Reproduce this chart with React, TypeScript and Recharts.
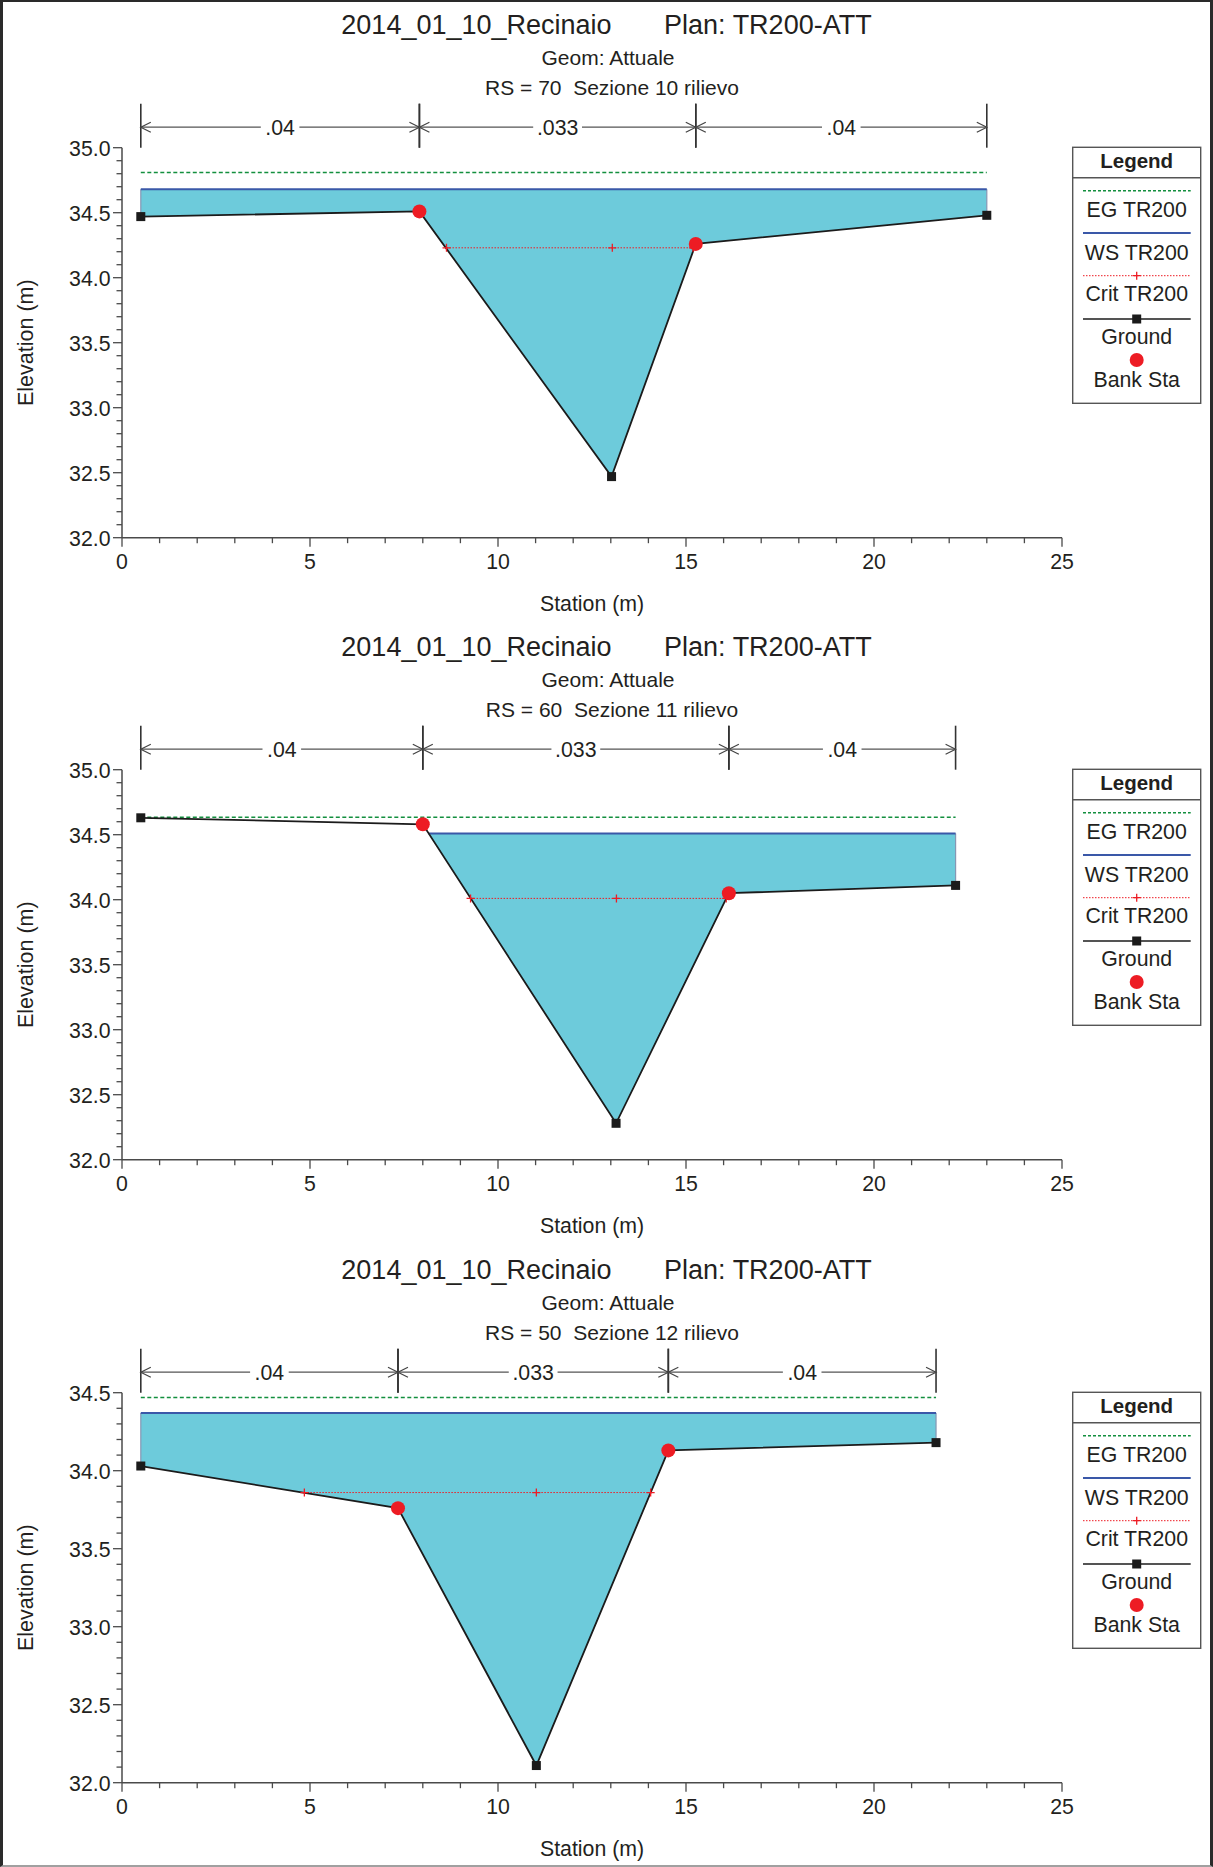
import React from 'react';
import { ComposedChart, Line, Area, XAxis, YAxis, ReferenceLine } from 'recharts';

const FONT = '"Liberation Sans", Arial, Helvetica, sans-serif';
const TEXT = '#231f20';
const AXIS = '#4a4a4a';

// ---------- text ----------
const titleMain = '2014_01_10_Recinaio       Plan: TR200-ATT';
const titleGeom = 'Geom: Attuale';
const rsTitles = ['RS = 70  Sezione 10 rilievo', 'RS = 60  Sezione 11 rilievo', 'RS = 50  Sezione 12 rilievo'];
const legendLabels = ['EG TR200', 'WS TR200', 'Crit TR200', 'Ground', 'Bank Sta'];
const xLabel = 'Station (m)';
const yLabel = 'Elevation (m)';

// ---------- axes ----------
const xDomain = [0, 25];
const xMajorTicks = [0, 5, 10, 15, 20, 25];
const xMinorStep = 1;
const yMinorStep = 0.1;
const yMajorTicksA = [32.0, 32.5, 33.0, 33.5, 34.0, 34.5, 35.0];
const yMajorTicksC = [32.0, 32.5, 33.0, 33.5, 34.0, 34.5];

// ---------- RS 70 ----------
const p1Ground = [
  { x: 0.5, y: 34.47 }, { x: 7.91, y: 34.51 }, { x: 13.02, y: 32.47 }, { x: 15.26, y: 34.26 }, { x: 23.0, y: 34.48 },
];
const p1Bank = [{ x: 7.91, y: 34.51 }, { x: 15.26, y: 34.26 }];
const p1Crit = [{ x: 8.63, y: 34.23 }, { x: 13.04, y: 34.23 }, { x: 15.19, y: 34.23 }];
const p1WS = [{ x: 0.5, y: 34.68 }, { x: 23.0, y: 34.68 }];
const p1EG = [{ x: 0.5, y: 34.81 }, { x: 23.0, y: 34.81 }];
const p1Water = [
  { x: 0.5, lo: 34.47, hi: 34.68 }, { x: 7.91, lo: 34.51, hi: 34.68 }, { x: 13.02, lo: 32.47, hi: 34.68 },
  { x: 15.26, lo: 34.26, hi: 34.68 }, { x: 23.0, lo: 34.48, hi: 34.68 },
];
const p1N = [{ from: 0.5, to: 7.91, n: '.04' }, { from: 7.91, to: 15.26, n: '.033' }, { from: 15.26, to: 23.0, n: '.04' }];

// ---------- RS 60 ----------
const p2Ground = [
  { x: 0.5, y: 34.63 }, { x: 8.0, y: 34.58 }, { x: 13.14, y: 32.28 }, { x: 16.14, y: 34.05 }, { x: 22.17, y: 34.11 },
];
const p2Bank = [{ x: 8.0, y: 34.58 }, { x: 16.14, y: 34.05 }];
const p2Crit = [{ x: 9.27, y: 34.01 }, { x: 13.15, y: 34.01 }, { x: 16.07, y: 34.01 }];
const p2WS = [{ x: 8.15, y: 34.51 }, { x: 22.17, y: 34.51 }];
const p2EG = [{ x: 0.5, y: 34.635 }, { x: 22.17, y: 34.635 }];
const p2Water = [
  { x: 8.15, lo: 34.51, hi: 34.51 }, { x: 13.14, lo: 32.28, hi: 34.51 },
  { x: 16.14, lo: 34.05, hi: 34.51 }, { x: 22.17, lo: 34.11, hi: 34.51 },
];
const p2N = [{ from: 0.5, to: 8.0, n: '.04' }, { from: 8.0, to: 16.14, n: '.033' }, { from: 16.14, to: 22.17, n: '.04' }];

// ---------- RS 50 ----------
const p3Ground = [
  { x: 0.5, y: 34.03 }, { x: 7.34, y: 33.76 }, { x: 11.02, y: 32.11 }, { x: 14.53, y: 34.13 }, { x: 21.65, y: 34.18 },
];
const p3Bank = [{ x: 7.34, y: 33.76 }, { x: 14.53, y: 34.13 }];
const p3Crit = [{ x: 4.85, y: 33.86 }, { x: 11.02, y: 33.86 }, { x: 14.06, y: 33.86 }];
const p3WS = [{ x: 0.5, y: 34.37 }, { x: 21.65, y: 34.37 }];
const p3EG = [{ x: 0.5, y: 34.47 }, { x: 21.65, y: 34.47 }];
const p3Water = [
  { x: 0.5, lo: 34.03, hi: 34.37 }, { x: 7.34, lo: 33.76, hi: 34.37 }, { x: 11.02, lo: 32.11, hi: 34.37 },
  { x: 14.53, lo: 34.13, hi: 34.37 }, { x: 21.65, lo: 34.18, hi: 34.37 },
];
const p3N = [{ from: 0.5, to: 7.34, n: '.04' }, { from: 7.34, to: 14.53, n: '.033' }, { from: 14.53, to: 21.65, n: '.04' }];

const panels = [
  { ground: p1Ground, bank: p1Bank, crit: p1Crit, ws: p1WS, eg: p1EG, water: p1Water, nSeg: p1N, yMajor: yMajorTicksA, rs: rsTitles[0] },
  { ground: p2Ground, bank: p2Bank, crit: p2Crit, ws: p2WS, eg: p2EG, water: p2Water, nSeg: p2N, yMajor: yMajorTicksA, rs: rsTitles[1] },
  { ground: p3Ground, bank: p3Bank, crit: p3Crit, ws: p3WS, eg: p3EG, water: p3Water, nSeg: p3N, yMajor: yMajorTicksC, rs: rsTitles[2] },
];

// ---------- layout ----------
const W = 1213;
const H = 1867;
const PANEL_H = 622.33;
const PLOT_TOP = 147.7;
const PLOT_BOTTOM = 537.7;
const PLOT_LEFT = 122;
const PLOT_RIGHT = 1062;
const AX_W = 40;
const AX_H = 40;

// colours
const C_WATER = '#6dcbdb';
const C_EG = '#138f3e';
const C_WS = '#3a58a8';
const C_CRIT = '#ed1c24';
const C_GROUND = '#1b1b1b';
const C_BANK = '#ed1c24';

const buildTicks = (lo, hi, step) => {
  const out = [];
  const n = Math.round((hi - lo) / step);
  for (let i = 0; i <= n; i++) out.push(Math.round((lo + i * step) * 1000) / 1000);
  return out;
};
const isIn = (v, arr) => arr.some((m) => Math.abs(m - v) < 1e-6);

const makeYTick = (majors) => (props) => {
  const { x, y, payload, index } = props;
  const v = payload.value;
  const major = isIn(v, majors);
  return (
    <g key={`yt-${index}`}>
      <line x1={x - (major ? 9 : 5.5)} x2={x} y1={y} y2={y} stroke={AXIS} strokeWidth={1.3} />
      {major && (
        <text x={x - 11.5} y={y + 8.3} textAnchor="end" fontSize={21.3} fill={TEXT} fontFamily={FONT}>
          {v.toFixed(1)}
        </text>
      )}
    </g>
  );
};

const XTick = (props) => {
  const { x, y, payload, index } = props;
  const v = payload.value;
  const major = isIn(v, xMajorTicks);
  return (
    <g key={`xt-${index}`}>
      <line x1={x} x2={x} y1={y} y2={y + (major ? 9 : 5.5)} stroke={AXIS} strokeWidth={1.3} />
      {major && (
        <text x={x} y={y + 31} textAnchor="middle" fontSize={21.3} fill={TEXT} fontFamily={FONT}>
          {String(v)}
        </text>
      )}
    </g>
  );
};

const SquareDot = (p) =>
  p.cx == null ? <g key={`sq-${p.index}`} /> : (
    <rect key={`sq-${p.index}`} x={p.cx - 4.5} y={p.cy - 4.5} width={9} height={9} fill={C_GROUND} />
  );
const BankDot = (p) =>
  p.cx == null ? <g key={`bk-${p.index}`} /> : <circle key={`bk-${p.index}`} cx={p.cx} cy={p.cy} r={7} fill={C_BANK} />;
const PlusDot = (p) =>
  p.cx == null ? <g key={`pl-${p.index}`} /> : (
    <path
      key={`pl-${p.index}`}
      d={`M${p.cx - 4},${p.cy}H${p.cx + 4}M${p.cx},${p.cy - 4}V${p.cy + 4}`}
      stroke={C_CRIT}
      strokeWidth={1.3}
      fill="none"
    />
  );

const NArrow = (label) => (p) => {
  const { x1, x2, y1 } = p;
  if (x1 == null) return <g />;
  const ya = y1 - 20.5;
  const yt = y1 - 44;
  const cx = (x1 + x2) / 2;
  const tw = label.length * 10.2 + 8;
  const ah = 10;
  return (
    <g>
      <line x1={x1} x2={x1} y1={yt} y2={y1} stroke="#333" strokeWidth={1.6} />
      <line x1={x2} x2={x2} y1={yt} y2={y1} stroke="#333" strokeWidth={1.6} />
      <line x1={x1} x2={x2} y1={ya} y2={ya} stroke="#555" strokeWidth={1.3} />
      <path d={`M${x1 + ah},${ya - 5}L${x1},${ya}L${x1 + ah},${ya + 5}`} stroke="#444" strokeWidth={1.2} fill="none" />
      <path d={`M${x2 - ah},${ya - 5}L${x2},${ya}L${x2 - ah},${ya + 5}`} stroke="#444" strokeWidth={1.2} fill="none" />
      <rect x={cx - tw / 2} y={ya - 11} width={tw} height={22} fill="#ffffff" />
      <text x={cx} y={ya + 7.5} textAnchor="middle" fontSize={21.3} fill={TEXT} fontFamily={FONT}>
        {label}
      </text>
    </g>
  );
};

const LegendBox = () => {
  const bx = 1072.7;
  const by = 147.3;
  const bw = 128;
  const bh = 256;
  const cx = bx + bw / 2;
  const lx1 = bx + 10.3;
  const lx2 = bx + 118;
  const lineYs = [43.4, 85.7, 128.4, 171.7, 212.7];
  const textYs = [70, 112.4, 153.7, 196.7, 239.4];
  return (
    <g fontFamily={FONT}>
      <rect x={bx} y={by} width={bw} height={bh} fill="#ffffff" stroke="#555" strokeWidth={1.4} />
      <text x={cx} y={by + 20.4} textAnchor="middle" fontSize={20.5} fontWeight="bold" fill={TEXT}>
        Legend
      </text>
      <line x1={bx} x2={bx + bw} y1={by + 30.4} y2={by + 30.4} stroke="#555" strokeWidth={1.4} />
      <line x1={lx1} x2={lx2} y1={by + lineYs[0]} y2={by + lineYs[0]} stroke={C_EG} strokeWidth={1.5} strokeDasharray="3 2" />
      <line x1={lx1} x2={lx2} y1={by + lineYs[1]} y2={by + lineYs[1]} stroke={C_WS} strokeWidth={2} />
      <line x1={lx1} x2={lx2} y1={by + lineYs[2]} y2={by + lineYs[2]} stroke={C_CRIT} strokeWidth={1} strokeDasharray="1.5 1.5" />
      <path
        d={`M${cx - 4},${by + lineYs[2]}H${cx + 4}M${cx},${by + lineYs[2] - 4}V${by + lineYs[2] + 4}`}
        stroke={C_CRIT}
        strokeWidth={1.3}
      />
      <line x1={lx1} x2={lx2} y1={by + lineYs[3]} y2={by + lineYs[3]} stroke={C_GROUND} strokeWidth={1.6} />
      <rect x={cx - 4.5} y={by + lineYs[3] - 4.5} width={9} height={9} fill={C_GROUND} />
      <circle cx={cx} cy={by + lineYs[4]} r={7} fill={C_BANK} />
      {legendLabels.map((t, i) => (
        <text key={t} x={cx} y={by + textYs[i]} textAnchor="middle" fontSize={21.3} fill={TEXT}>
          {t}
        </text>
      ))}
    </g>
  );
};

const Panel = ({ cfg, top }) => {
  const { ground, bank, crit, ws, eg, water, nSeg, yMajor, rs } = cfg;
  const yMax = yMajor[yMajor.length - 1];
  const yMin = yMajor[0];
  const yTicks = buildTicks(yMin, yMax, yMinorStep);
  const xTicks = buildTicks(xDomain[0], xDomain[1], xMinorStep);
  const first = water[0];
  const last = water[water.length - 1];
  const edgeL = [{ x: first.x, y: first.lo }, { x: first.x, y: first.hi }];
  const edgeR = [{ x: last.x, y: last.lo }, { x: last.x, y: last.hi }];
  const YTick = makeYTick(yMajor);
  return (
    <div style={{ position: 'absolute', left: 0, top, width: W, height: PANEL_H }}>
      <ComposedChart
        width={W}
        height={PANEL_H}
        margin={{ top: PLOT_TOP, left: PLOT_LEFT - AX_W, right: W - PLOT_RIGHT, bottom: PANEL_H - PLOT_BOTTOM - AX_H }}
      >
        <XAxis
          type="number"
          dataKey="x"
          domain={xDomain}
          ticks={xTicks}
          interval={0}
          height={AX_H}
          tickSize={0}
          tickMargin={0}
          tickLine={false}
          tick={XTick}
          axisLine={{ stroke: AXIS, strokeWidth: 1.5 }}
          allowDataOverflow
        />
        <YAxis
          type="number"
          domain={[yMin, yMax]}
          ticks={yTicks}
          interval={0}
          width={AX_W}
          tickSize={0}
          tickMargin={0}
          tickLine={false}
          tick={YTick}
          axisLine={{ stroke: AXIS, strokeWidth: 1.5 }}
          allowDataOverflow
        />
        <Area
          data={water}
          dataKey={(d) => [d.lo, d.hi]}
          type="linear"
          stroke="none"
          fill={C_WATER}
          fillOpacity={1}
          isAnimationActive={false}
          dot={false}
          activeDot={false}
        />
        <Line data={edgeL} dataKey="y" type="linear" stroke="#8797b3" strokeWidth={1.2} dot={false} activeDot={false} isAnimationActive={false} />
        <Line data={edgeR} dataKey="y" type="linear" stroke="#8797b3" strokeWidth={1.2} dot={false} activeDot={false} isAnimationActive={false} />
        <Line data={eg} dataKey="y" type="linear" stroke={C_EG} strokeWidth={1.5} strokeDasharray="4 2.5" dot={false} activeDot={false} isAnimationActive={false} />
        <Line data={ws} dataKey="y" type="linear" stroke={C_WS} strokeWidth={2} dot={false} activeDot={false} isAnimationActive={false} />
        <Line data={crit} dataKey="y" type="linear" stroke={C_CRIT} strokeWidth={1} strokeDasharray="1.5 1.5" dot={PlusDot} activeDot={false} isAnimationActive={false} />
        <Line data={ground} dataKey="y" type="linear" stroke={C_GROUND} strokeWidth={1.8} dot={SquareDot} activeDot={false} isAnimationActive={false} />
        <Line data={bank} dataKey="y" type="linear" stroke="none" dot={BankDot} activeDot={false} isAnimationActive={false} />
        {nSeg.map((s, i) => (
          <ReferenceLine
            key={`n-${i}`}
            segment={[{ x: s.from, y: yMax }, { x: s.to, y: yMax }]}
            ifOverflow="visible"
            shape={NArrow(s.n)}
          />
        ))}
      </ComposedChart>
      <svg
        width={W}
        height={PANEL_H}
        style={{ position: 'absolute', left: 0, top: 0, pointerEvents: 'none' }}
      >
        <text x={606.5} y={33.5} textAnchor="middle" fontSize={27} fill={TEXT} fontFamily={FONT} style={{ whiteSpace: 'pre' }}>
          {titleMain}
        </text>
        <text x={608} y={65} textAnchor="middle" fontSize={21} fill={TEXT} fontFamily={FONT}>
          {titleGeom}
        </text>
        <text x={612} y={94.5} textAnchor="middle" fontSize={21} fill={TEXT} fontFamily={FONT} style={{ whiteSpace: 'pre' }}>
          {rs}
        </text>
        <text x={(PLOT_LEFT + PLOT_RIGHT) / 2} y={PLOT_BOTTOM + 73.5} textAnchor="middle" fontSize={21.3} fill={TEXT} fontFamily={FONT}>
          {xLabel}
        </text>
        <text
          transform={`translate(33, ${(PLOT_TOP + PLOT_BOTTOM) / 2}) rotate(-90)`}
          x={0}
          y={0}
          textAnchor="middle"
          fontSize={21.5}
          fill={TEXT}
          fontFamily={FONT}
        >
          {yLabel}
        </text>
        <LegendBox />
      </svg>
    </div>
  );
};

export default function App() {
  return (
    <div style={{ position: 'absolute', left: 0, top: 0, width: W, height: H, background: '#ffffff', overflow: 'hidden' }}>
      {panels.map((cfg, i) => (
        <Panel key={i} cfg={cfg} top={i * PANEL_H} />
      ))}
      <div
        style={{
          position: 'absolute',
          left: 0,
          top: 0,
          width: W,
          height: H,
          boxSizing: 'border-box',
          borderLeft: '3px solid #2a2a2a',
          borderRight: '3px solid #2a2a2a',
          borderTop: '2.5px solid #2a2a2a',
          borderBottom: '2px solid #a0a0a0',
          pointerEvents: 'none',
        }}
      />
    </div>
  );
}
